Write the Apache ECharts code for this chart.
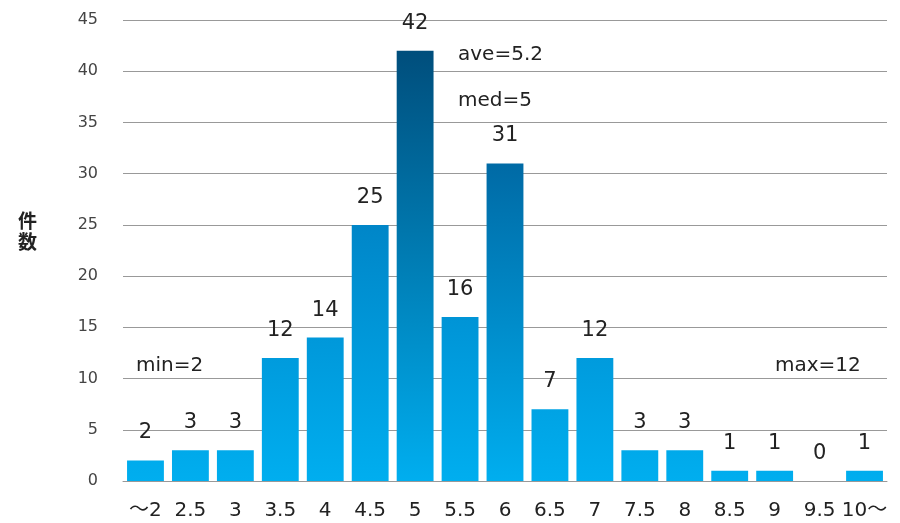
<!DOCTYPE html>
<html>
<head>
<meta charset="utf-8">
<script src="https://cdn.jsdelivr.net/npm/echarts@6/dist/echarts.min.js"></script>
<style>
  html, body { margin: 0; padding: 0; background: #fff; }
  #chart { width: 900px; height: 523px; }
</style>
</head>
<body>
<div id="chart"></div>
<script>
// Score bins and their counts
const categories = ['～2', '2.5', '3', '3.5', '4', '4.5', '5', '5.5', '6', '6.5', '7', '7.5', '8', '8.5', '9', '9.5', '10～'];
const counts = [2, 3, 3, 12, 14, 25, 42, 16, 31, 7, 12, 3, 3, 1, 1, 0, 1];
const yTicks = [0, 5, 10, 15, 20, 25, 30, 35, 40, 45];
const statNotes = ['ave=5.2', 'med=5', 'min=2', 'max=12'];
const axisTitle = '件\n数';

// Colour ramp along the value axis: light cyan at 0, deep navy at the top
const ramp = [
  [0, [0, 174, 239]],
  [15, [0, 150, 216]],
  [25, [0, 134, 200]],
  [31, [0, 106, 165]],
  [42, [0, 78, 124]]
];
function colorAt(v) {
  for (let i = 1; i < ramp.length; i++) {
    if (v <= ramp[i][0]) {
      const a = ramp[i - 1], b = ramp[i];
      const t = (v - a[0]) / (b[0] - a[0]);
      const c = a[1].map((x, k) => Math.round(x + (b[1][k] - x) * t));
      return 'rgb(' + c.join(',') + ')';
    }
  }
  const last = ramp[ramp.length - 1][1];
  return 'rgb(' + last.join(',') + ')';
}

const barData = counts.map(v => ({
  value: v,
  itemStyle: {
    color: new echarts.graphic.LinearGradient(0, 0, 0, 1, [
      { offset: 0, color: colorAt(v) },
      { offset: 1, color: colorAt(0) }
    ])
  }
}));

const FONT = '"DejaVu Sans", "Noto Sans CJK JP", sans-serif';
const chart = echarts.init(document.getElementById('chart'), null, { renderer: 'canvas' });

function note(text, x, y) {
  return {
    type: 'text', x: x, y: y,
    style: { text: text, fontSize: 20, fill: '#222', fontFamily: FONT, verticalAlign: 'middle' }
  };
}

chart.setOption({
  animation: false,
  grid: { left: 123, right: 13, top: 20, bottom: 42 },
  xAxis: {
    type: 'category',
    data: categories,
    axisLine: { lineStyle: { color: '#999', width: 1 } },
    axisTick: { show: false },
    axisLabel: {
      interval: 0,
      color: '#222',
      fontSize: 20,
      margin: 20,
      fontFamily: FONT
    }
  },
  yAxis: {
    type: 'value',
    min: yTicks[0],
    max: yTicks[yTicks.length - 1],
    interval: yTicks[1] - yTicks[0],
    axisLine: { show: false },
    axisTick: { show: false },
    axisLabel: {
      color: '#444',
      fontSize: 16,
      margin: 25,
      fontFamily: FONT
    },
    splitLine: { lineStyle: { color: '#999', width: 1 } }
  },
  series: [{
    type: 'bar',
    data: barData,
    barCategoryGap: '18%',
    label: {
      show: true,
      position: 'top',
      distance: 17,
      color: '#222',
      fontSize: 21,
      fontFamily: FONT
    }
  }],
  graphic: [
    {
      type: 'text', x: 18, y: 210,
      style: {
        text: axisTitle, fontSize: 19, lineHeight: 21, fontWeight: 'bold',
        fill: '#222', fontFamily: '"Noto Sans CJK JP", sans-serif'
      }
    },
    note(statNotes[0], 458, 55),
    note(statNotes[1], 458, 101),
    note(statNotes[2], 136, 366),
    note(statNotes[3], 775, 366)
  ]
});
</script>
</body>
</html>
